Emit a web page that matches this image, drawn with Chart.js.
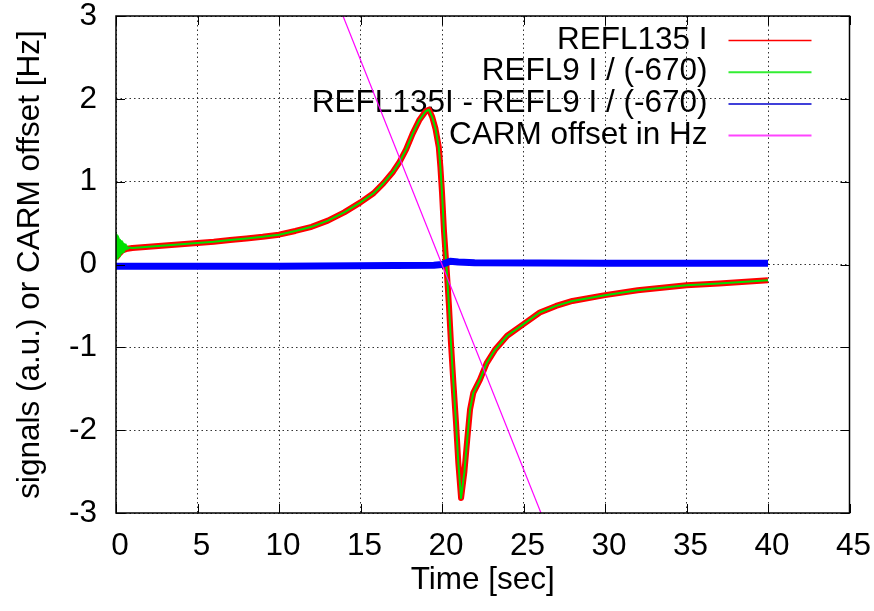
<!DOCTYPE html>
<html>
<head>
<meta charset="utf-8">
<script src="https://cdn.jsdelivr.net/npm/chart.js@4/dist/chart.umd.min.js"></script>
<style>
  html, body { margin: 0; padding: 0; background: #fff; }
</style>
</head>
<body>
<canvas id="carm" width="874" height="611"></canvas>
<script>
// values
var timeMain = [1, 2, 3, 4, 5, 6, 7, 8, 9, 10, 11, 12, 13, 14, 15, 15.8, 16.4, 17, 17.4, 17.8,
  18.2, 18.6, 19, 19.2, 19.4, 19.6, 19.8, 19.9, 20, 20.12, 20.29, 20.43, 20.55, 20.7, 20.86,
  21, 21.17, 21.37, 21.55, 21.72, 21.92, 22.33, 22.74, 23.25, 24, 25, 26, 27, 28, 30, 32, 35, 37, 40];
var reflMain = [0.2, 0.215, 0.23, 0.245, 0.26, 0.275, 0.295, 0.315, 0.335, 0.36, 0.405, 0.455, 0.53,
  0.63, 0.75, 0.86, 0.98, 1.12, 1.24, 1.39, 1.58, 1.74, 1.85, 1.87, 1.78, 1.64, 1.42, 1.18, 0.87,
  0.41, -0.07, -0.51, -0.95, -1.43, -1.91, -2.39, -2.82, -2.51, -2.11, -1.75, -1.55, -1.39, -1.19,
  -1.03, -0.86, -0.72, -0.58, -0.5, -0.44, -0.37, -0.31, -0.25, -0.23, -0.19];

// REFL135 starts low, REFL9 rings for the first second
var refl135StartTime = [0, 0.2, 0.4, 0.7];
var refl135Start = [0.08, 0.13, 0.17, 0.19];
var refl9StartTime = [0, 0.04, 0.08, 0.12, 0.16, 0.2, 0.24, 0.28, 0.32, 0.36, 0.4, 0.44, 0.48,
  0.52, 0.56, 0.6, 0.66, 0.72, 0.8];
var refl9Start = [0.36, 0.06, 0.34, 0.08, 0.32, 0.1, 0.3, 0.12, 0.28, 0.14, 0.27, 0.15, 0.25,
  0.17, 0.24, 0.18, 0.22, 0.19, 0.205];

var diffTime = [0, 10, 19.5, 20, 20.5, 21, 22, 30, 40];
var diffVals = [-0.02, -0.02, -0.01, 0.0, 0.04, 0.03, 0.02, 0.015, 0.015];

var carmTime = [0, 40];
var carmHz = [9.88, -9.88];

var seriesLabels = ['REFL135 I', 'REFL9 I / (-670)', 'REFL135I - REFL9 I / (-670)', 'CARM offset in Hz'];
var seriesColors = ['#ff0000', '#00e000', '#0000ff', '#ff00ff'];
var legendColors = ['#ff0000', '#33ee33', '#0000cc', '#ff44ff'];

function pts(xs, ys) {
  return xs.map(function (x, i) { return { x: x, y: ys[i] }; });
}

var FONT = '"Liberation Sans", Arial, Helvetica, sans-serif';
var FSIZE = 31.5;

var framePlugin = {
  id: 'frame',
  beforeDatasetsDraw: function (chart) {
    var ctx = chart.ctx, a = chart.chartArea;
    ctx.save();
    ctx.font = FSIZE + 'px ' + FONT;
    ctx.textAlign = 'right';
    ctx.textBaseline = 'middle';
    seriesLabels.forEach(function (lab, i) {
      var y = a.top + 24 + i * 31.7;
      ctx.fillStyle = '#000';
      ctx.fillText(lab, a.right - 142, y);
      ctx.strokeStyle = legendColors[i];
      ctx.lineWidth = i === 1 || i === 3 ? 2 : 1.5;
      ctx.beginPath();
      ctx.moveTo(a.right - 121, y + 0.5);
      ctx.lineTo(a.right - 38, y + 0.5);
      ctx.stroke();
    });
    ctx.restore();
  },
  afterDatasetsDraw: function (chart) {
    var ctx = chart.ctx, a = chart.chartArea;
    var xs = chart.scales.x, ys = chart.scales.y;
    ctx.save();
    ctx.strokeStyle = '#000';
    ctx.lineWidth = 1;
    ctx.beginPath();
    xs.ticks.forEach(function (t) {
      var px = Math.round(xs.getPixelForValue(t.value)) + 0.5;
      ctx.moveTo(px, a.bottom); ctx.lineTo(px, a.bottom - 9);
      ctx.moveTo(px, a.top); ctx.lineTo(px, a.top + 9);
    });
    ys.ticks.forEach(function (t) {
      var py = Math.round(ys.getPixelForValue(t.value)) + 0.5;
      ctx.moveTo(a.left, py); ctx.lineTo(a.left + 9, py);
      ctx.moveTo(a.right, py); ctx.lineTo(a.right - 9, py);
    });
    ctx.stroke();
    ctx.lineWidth = 1.5;
    ctx.strokeRect(a.left, a.top, a.right - a.left, a.bottom - a.top);
    ctx.restore();
  }
};

new Chart(document.getElementById('carm').getContext('2d'), {
  type: 'line',
  data: {
    datasets: [
      { label: seriesLabels[0], data: pts(refl135StartTime.concat(timeMain), refl135Start.concat(reflMain)),
        borderColor: seriesColors[0], borderWidth: 6, order: 4 },
      { label: seriesLabels[1], data: pts(refl9StartTime.concat(timeMain), refl9Start.concat(reflMain)),
        borderColor: seriesColors[1], borderWidth: 2, order: 3 },
      { label: seriesLabels[2], data: pts(diffTime, diffVals),
        borderColor: seriesColors[2], borderWidth: 7, order: 2 },
      { label: seriesLabels[3], data: pts(carmTime, carmHz),
        borderColor: seriesColors[3], borderWidth: 1.2, order: 1 }
    ]
  },
  options: {
    responsive: false,
    animation: false,
    layout: { padding: { top: 16, right: 24.5, left: 0, bottom: 0 } },
    elements: {
      point: { radius: 0 },
      line: { tension: 0, borderJoinStyle: 'round', borderCapStyle: 'butt' }
    },
    plugins: {
      legend: { display: false },
      tooltip: { enabled: false }
    },
    scales: {
      x: {
        type: 'linear',
        min: 0,
        max: 45,
        afterFit: function (s) { s.height = 98; s.paddingLeft = 0; s.paddingRight = 0; },
        ticks: { stepSize: 5, color: '#000', padding: 14, labelOffset: 4, font: { family: FONT, size: FSIZE } },
        grid: { color: 'rgba(0,0,0,0.8)', drawTicks: false, lineWidth: 1 },
        border: { display: false, dash: [1.5, 3] },
        title: { display: true, text: 'Time [sec]', color: '#000', padding: { top: 0, bottom: 12 },
          font: { family: FONT, size: FSIZE } }
      },
      y: {
        min: -3,
        max: 3,
        afterFit: function (s) { s.width = 116; s.paddingTop = 0; s.paddingBottom = 0; },
        ticks: { stepSize: 1, color: '#000', padding: 19, font: { family: FONT, size: FSIZE } },
        grid: { color: 'rgba(0,0,0,0.8)', drawTicks: false, lineWidth: 1 },
        border: { display: false, dash: [1.5, 3] },
        title: { display: true, text: 'signals (a.u.) or CARM offset [Hz]', color: '#000',
          padding: { top: 11, bottom: 0 }, font: { family: FONT, size: FSIZE } }
      }
    }
  },
  plugins: [framePlugin]
});
</script>
</body>
</html>
